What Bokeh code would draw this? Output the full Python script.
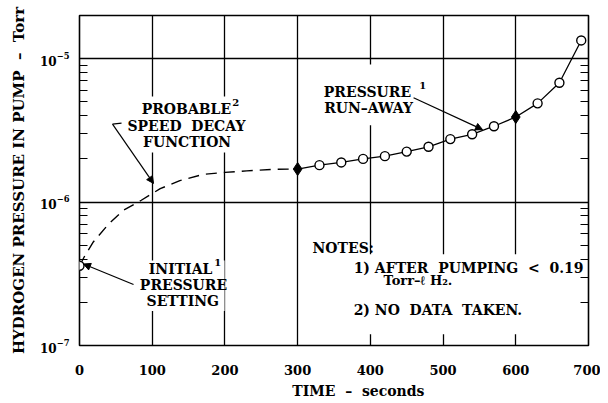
from bokeh.plotting import figure
from bokeh.models import (FixedTicker, LogAxis, Label, BoxAnnotation, Arrow,
                          NormalHead, Range1d)
from bokeh.embed import file_html
from bokeh.resources import INLINE

# ---------------- data ----------------
run_time = [300, 330, 360, 390, 420, 450, 480, 510, 540, 570, 600, 630, 660, 690]
run_pressure = [1.70e-6, 1.81e-6, 1.89e-6, 2.00e-6, 2.09e-6, 2.25e-6, 2.43e-6,
                2.75e-6, 2.97e-6, 3.38e-6, 3.92e-6, 4.88e-6, 6.79e-6, 1.34e-5]
decay_time = [0, 8, 19, 40, 61, 85, 111, 138, 170, 200, 230, 265, 300]
decay_pressure = [3.6e-7, 4.28e-7, 5.27e-7, 7.03e-7, 8.8e-7, 1.03e-6, 1.24e-6,
                  1.41e-6, 1.56e-6, 1.61e-6, 1.65e-6, 1.69e-6, 1.70e-6]
initial_time = [0]
initial_pressure = [3.6e-7]
key_time = [300, 600]
key_pressure = [1.70e-6, 3.92e-6]
x_ticks = [0, 100, 200, 300, 400, 500, 600, 700]
y_ticks = [1e-7, 1e-6, 1e-5]
y_minor = [2e-7, 3e-7, 4e-7, 5e-7, 6e-7, 7e-7, 8e-7, 9e-7,
           2e-6, 3e-6, 4e-6, 5e-6, 6e-6, 7e-6, 8e-6, 9e-6]

FONT = "DejaVu Serif"

p = figure(frame_width=509, frame_height=330,
           x_range=Range1d(0, 700), y_range=Range1d(1e-7, 2e-5),
           y_axis_type="log", output_backend="svg", toolbar_location=None,
           min_border_left=79, min_border_right=12, min_border_top=15,
           min_border_bottom=56)
p.background_fill_color = "white"
p.border_fill_color = "white"
p.outline_line_color = "black"
p.outline_line_width = 1.6

# x axis
xa = p.xaxis[0]
xa.ticker = FixedTicker(ticks=x_ticks)
xa.major_tick_in = 0
xa.major_tick_out = 0
xa.minor_tick_in = 0
xa.minor_tick_out = 0
xa.axis_line_color = None
xa.major_label_standoff = 19
xa.major_label_text_font = FONT
xa.major_label_text_font_style = "bold"
xa.major_label_text_font_size = "13px"
xa.major_label_text_color = "black"
xa.axis_label = "\u00a0" * 10 + "TIME\u00a0\u00a0\u2013\u00a0\u00a0seconds"
xa.axis_label_standoff = 5
xa.axis_label_text_font = FONT
xa.axis_label_text_font_style = "bold"
xa.axis_label_text_font_size = "14px"
xa.axis_label_text_color = "black"

# y axis
ya = p.yaxis[0]
ya.ticker = FixedTicker(ticks=y_ticks, minor_ticks=y_minor)
ya.major_tick_in = 0
ya.major_tick_out = 0
ya.minor_tick_in = 8
ya.minor_tick_out = 0
ya.minor_tick_line_color = "black"
ya.minor_tick_line_width = 1.2
ya.axis_line_color = None
ya.major_label_standoff = 10
ya.major_label_text_font = FONT
ya.major_label_text_font_style = "bold"
ya.major_label_text_font_size = "12px"
ya.major_label_text_color = "black"
ya.axis_label = "HYDROGEN PRESSURE IN PUMP\u00a0\u00a0\u2013\u00a0\u00a0Torr"
ya.axis_label_standoff = 9
ya.axis_label_text_font = FONT
ya.axis_label_text_font_style = "bold"
ya.axis_label_text_font_size = "15px"
ya.axis_label_text_color = "black"

ra = LogAxis(ticker=FixedTicker(ticks=[], minor_ticks=y_minor),
             major_label_text_font_size="0px", axis_line_color=None,
             major_tick_in=0, major_tick_out=0, minor_tick_in=8, minor_tick_out=0,
             minor_tick_line_color="black", minor_tick_line_width=1.2)
p.add_layout(ra, "right")

# grid
p.xgrid.ticker = FixedTicker(ticks=x_ticks[1:-1])
p.ygrid.ticker = FixedTicker(ticks=y_ticks[1:])
for g in (p.xgrid[0], p.ygrid[0]):
    g.grid_line_color = "black"
    g.grid_line_width = 1.3
    g.grid_line_alpha = 1.0

# glyphs
p.line(decay_time, decay_pressure, line_color="black", line_width=1.4,
       line_dash="11 7")
p.line(run_time, run_pressure, line_color="black", line_width=1.3)
open_t = [t for t in run_time if t not in key_time]
open_p = [v for t, v in zip(run_time, run_pressure) if t not in key_time]
p.scatter(open_t, open_p, marker="circle", size=9, fill_color="white",
          line_color="black", line_width=1.4)
p.scatter(key_time, key_pressure, marker="diamond", size=13, color="black")
p.scatter(initial_time, initial_pressure, marker="circle", size=9,
          fill_color="white", line_color="black", line_width=1.4)

# white boxes behind annotation texts
for (l, r, b, t) in [(64.6, 229.7, 2.22e-6, 5.45e-6),
                     (331.5, 462, 3.44e-6, 9.1e-6),
                     (81, 199.5, 1.74e-7, 3.92e-7),
                     (372.8, 685, 1.2e-7, 4.32e-7)]:
    p.add_layout(BoxAnnotation(left=l, right=r, bottom=b, top=t,
                               fill_color="white", fill_alpha=1.0,
                               line_color=None))


def lab(x, y, text, size="14px", align="center"):
    p.add_layout(Label(x=x, y=y, text=text, text_align=align,
                       text_baseline="middle", text_font=FONT,
                       text_font_style="bold", text_font_size=size,
                       text_color="black"))


lab(147, 4.45e-6, "PROBABLE")
lab(215, 4.92e-6, "2", size="10px")
lab(147, 3.39e-6, "SPEED\u00a0\u00a0DECAY")
lab(148, 2.64e-6, "FUNCTION")

lab(396, 5.85e-6, "PRESSURE")
lab(472, 6.45e-6, "1", size="10px")
lab(397.5, 4.53e-6, "RUN\u2013AWAY")

lab(139, 3.39e-7, "INITIAL")
lab(190, 3.8e-7, "1", size="10px")
lab(143, 2.63e-7, "PRESSURE")
lab(142, 2.05e-7, "SETTING")

lab(320.5, 4.81e-7, "NOTES:", align="left")
lab(377, 3.46e-7, "1)\u00a0AFTER\u00a0\u00a0PUMPING\u00a0\u00a0<\u00a0\u00a00.19", align="left")
lab(418, 2.84e-7, "Torr\u2013\u2113\u00a0H\u2082.", size="13px", align="left")
lab(377, 1.78e-7, "2)\u00a0NO\u00a0\u00a0DATA\u00a0\u00a0TAKEN.", align="left")

# leaders
head = dict(size=7, fill_color="black", line_color="black")
p.add_layout(Arrow(end=None, x_start=45.4, y_start=3.5e-6, x_end=57.8,
                   y_end=3.55e-6, line_width=1.2, line_color="black"))
p.add_layout(Arrow(end=NormalHead(**head), x_start=45.4, y_start=3.5e-6,
                   x_end=101.8, y_end=1.35e-6, line_width=1.2, line_color="black"))
p.add_layout(Arrow(end=NormalHead(**head), x_start=459.4, y_start=5.34e-6,
                   x_end=554.3, y_end=3.2e-6, line_width=1.2, line_color="black"))
p.add_layout(Arrow(end=NormalHead(**head), x_start=74.3, y_start=2.66e-7,
                   x_end=5.5, y_end=3.7e-7, line_width=1.2, line_color="black"))

open("out.html", "w").write(file_html(p, INLINE))
